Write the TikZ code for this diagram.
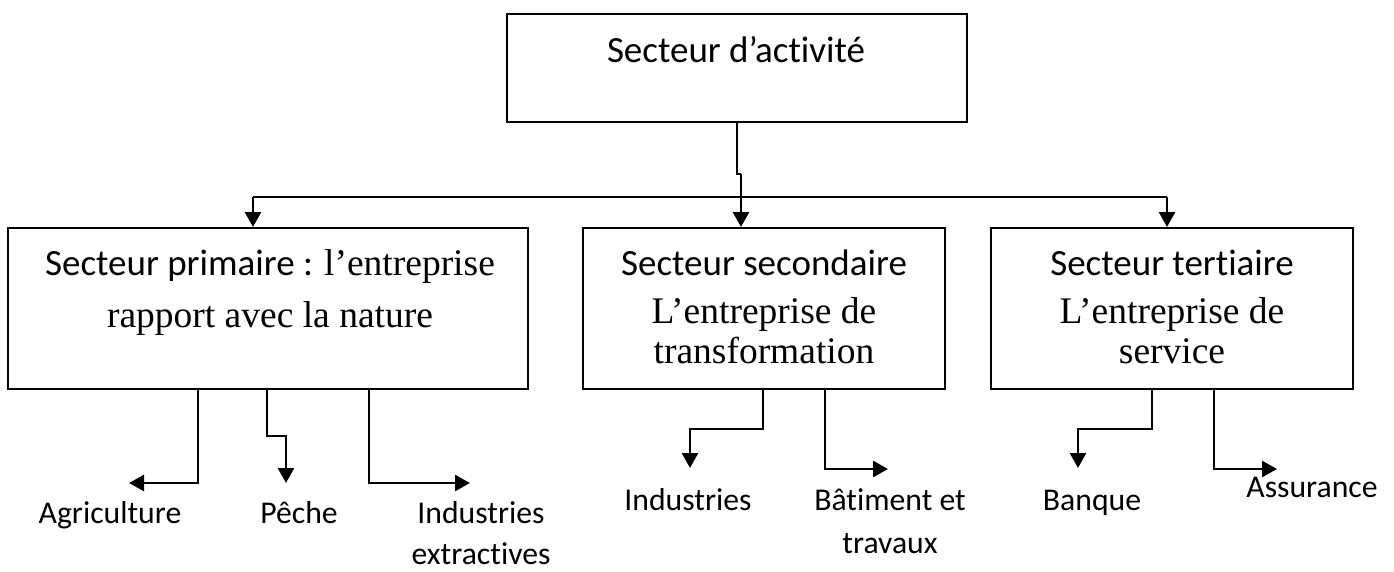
\documentclass[tikz,border=0pt]{standalone}
\usepackage{fontspec}
\newfontfamily\calib[Ligatures=NoCommon]{Carlito}
\newfontfamily\tnr{Liberation Serif}
\usetikzlibrary{arrows.meta}
\begin{document}
\begin{tikzpicture}[x=1pt,y=-1pt,
  box/.style={draw, line width=2pt, inner sep=0pt},
  conn/.style={line width=2.6pt},
  arr/.style={conn, -{Triangle[length=15pt,width=16pt]}},
  head/.style={anchor=base, inner sep=0pt, font=\calib\fontsize{37}{44}\selectfont},
  serif/.style={anchor=base, inner sep=0pt, font=\tnr\fontsize{37.5}{44}\selectfont},
  leaf/.style={anchor=base, inner sep=0pt, font=\calib\fontsize{31.7}{38}\selectfont}]
\useasboundingbox (0,0) rectangle (1394,571);
% boxes
\node[box, minimum width=460pt, minimum height=108pt] (top) at (737,68) {};
\node[box, minimum width=520pt, minimum height=161pt] (prim) at (268,308.5) {};
\node[box, minimum width=362pt, minimum height=161pt] (sec) at (764,308.5) {};
\node[box, minimum width=362pt, minimum height=161pt] (ter) at (1172,308.5) {};
% box texts
\node[head] (tTop) at (736,62) {Secteur d’activité};
\node[anchor=base, inner sep=0pt] (tP1) at (270,275) {{\calib\fontsize{37}{44}\selectfont Secteur primaire : }{\tnr\fontsize{37.5}{44}\selectfont l’entreprise}};
\node[serif] (tP2) at (270,327) {rapport avec la nature};
\node[head] (tS1) at (764,275) {Secteur secondaire};
\node[serif] (tS2) at (764,323) {L’entreprise de};
\node[serif] (tS3) at (764,363) {transformation};
\node[head] (tT1) at (1172,275) {Secteur tertiaire};
\node[serif] (tT2) at (1172,323) {L’entreprise de};
\node[serif] (tT3) at (1172,363) {service};
% leaf texts
\node[leaf] (agri) at (110,523) {Agriculture};
\node[leaf] (peche) at (299,523) {Pêche};
\node[leaf] (ind1) at (481,523) {Industries};
\node[leaf] (ind1b) at (481,564) {extractives};
\node[leaf] (ind2) at (688,510) {Industries};
\node[leaf] (bat) at (890,510) {Bâtiment et};
\node[leaf] (batb) at (890,553) {travaux};
\node[leaf] (banq) at (1092,510) {Banque};
\node[leaf] (assu) at (1312,497) {Assurance};
% top connectors
\coordinate (j1) at (737,174);
\coordinate (j2) at (741,174);
\coordinate (hL) at (253,197);
\coordinate (hR) at (1167,197);
\draw[conn] (top.south) -- (j1) -- (j2);
\draw[arr] (j2) -- (j2 |- sec.north);
\draw[conn] (hL) -- (hR);
\draw[arr] (hL) -- (hL |- prim.north);
\draw[arr] (hR) -- (hR |- ter.north);
% primary children
\coordinate (a1) at (198,483); \coordinate (a2) at (129,483);
\draw[arr] (a1 |- prim.south) -- (a1) -- (a2);
\coordinate (p1) at (267,436); \coordinate (p2) at (286,436); \coordinate (p3) at (286,483);
\draw[arr] (p1 |- prim.south) -- (p1) -- (p2) -- (p3);
\coordinate (e1) at (369,483); \coordinate (e2) at (470,483);
\draw[arr] (e1 |- prim.south) -- (e1) -- (e2);
% secondary children
\coordinate (s1) at (763,429); \coordinate (s2) at (690,429); \coordinate (s3) at (690,468);
\draw[arr] (s1 |- sec.south) -- (s1) -- (s2) -- (s3);
\coordinate (b1) at (825,469); \coordinate (b2) at (888,469);
\draw[arr] (b1 |- sec.south) -- (b1) -- (b2);
% tertiary children
\coordinate (q1) at (1152,429); \coordinate (q2) at (1078,429); \coordinate (q3) at (1078,468);
\draw[arr] (q1 |- ter.south) -- (q1) -- (q2) -- (q3);
\coordinate (r1) at (1214,469); \coordinate (r2) at (1277,469);
\draw[arr] (r1 |- ter.south) -- (r1) -- (r2);
\end{tikzpicture}
\end{document}
